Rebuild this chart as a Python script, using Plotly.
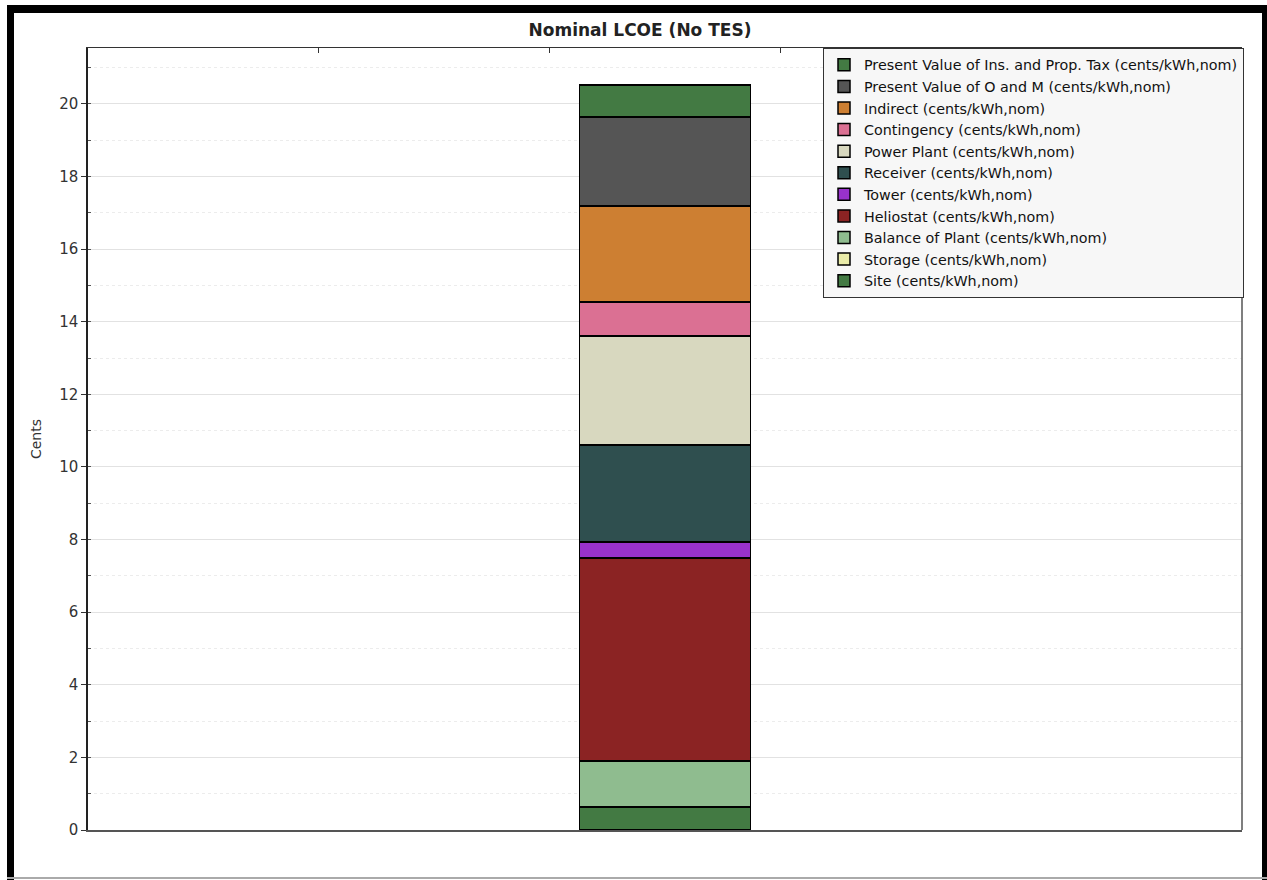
# Nominal LCOE (No TES) - barra apilada
import plotly.graph_objects as go

categoria = ["LCOE"]

componentes = [
    "Site (cents/kWh,nom)",
    "Storage (cents/kWh,nom)",
    "Balance of Plant (cents/kWh,nom)",
    "Heliostat (cents/kWh,nom)",
    "Tower (cents/kWh,nom)",
    "Receiver (cents/kWh,nom)",
    "Power Plant (cents/kWh,nom)",
    "Contingency (cents/kWh,nom)",
    "Indirect (cents/kWh,nom)",
    "Present Value of O and M (cents/kWh,nom)",
    "Present Value of Ins. and Prop. Tax (cents/kWh,nom)",
]
valores = [0.63, 0.0, 1.27, 5.59, 0.44, 2.68, 3.00, 0.94, 2.64, 2.45, 0.88]
colores = [
    "#437a43", "#eaeca8", "#8fbc8f", "#8b2323", "#9932cc", "#2f4f4f",
    "#d8d8bf", "#db7093", "#cd7f32", "#555555", "#437a43",
]

W, H = 1267, 880
L, R, T, B = 88, 25, 48, 50
pw, ph = W - L - R, H - T - B


def px(x):
    return (x - L) / pw


def py(y):
    return (H - B - y) / ph


fig = go.Figure()

for nombre, v, c in zip(componentes, valores, colores):
    fig.add_trace(go.Bar(
        x=categoria, y=[v], name=nombre,
        marker=dict(color=c, line=dict(color="black", width=1.5)),
        width=0.148,
    ))

# eje superior solo con marcas
fig.add_trace(go.Scatter(x=[0, 5], y=[0, 0], xaxis="x2", mode="markers",
                         marker=dict(opacity=0), showlegend=False, hoverinfo="skip"))

# marco exterior
marco = [
    (7, 14, 5, 880, "black"),
    (7, 1267, 5, 13, "black"),
    (1262, 1267, 5, 880, "black"),
    (7, 1267, 877, 879, "#aaaaaa"),
]
shapes = []
for x0, x1, y0, y1, c in marco:
    shapes.append(dict(type="rect", xref="paper", yref="paper",
                       x0=px(x0), x1=px(x1), y0=py(y1), y1=py(y0),
                       fillcolor=c, line=dict(width=0), layer="above"))
shapes.append(dict(type="line", xref="paper", yref="paper", x0=1, x1=1, y0=0, y1=1,
                   line=dict(color="#555", width=1.5)))

fig.update_layout(
    width=W, height=H,
    margin=dict(l=L, r=R, t=T, b=B),
    paper_bgcolor="white", plot_bgcolor="white",
    barmode="stack",
    font=dict(family="DejaVu Sans", size=14, color="#333"),
    title=dict(text="<b>Nominal LCOE (No TES)</b>", x=640 / W, xref="container",
               xanchor="center", y=1 - 30 / H, yanchor="middle",
               font=dict(size=17, color="#222")),
    showlegend=True,
    legend=dict(
        x=px(823), y=1, xanchor="left", yanchor="top",
        traceorder="reversed",
        bgcolor="#f7f7f7", bordercolor="#333", borderwidth=1,
        font=dict(family="DejaVu Sans", size=14.3, color="#111"),
        tracegroupgap=0,
    ),
    xaxis=dict(
        range=[-0.5, 0.5], showticklabels=False, ticks="",
        showgrid=False, showline=True, linecolor="#555", linewidth=2,
        zeroline=False,
    ),
    xaxis2=dict(
        overlaying="x", side="top", range=[0, 5], dtick=1,
        ticks="inside", ticklen=5, tickcolor="#333",
        showticklabels=False, showgrid=False, showline=True,
        linecolor="#333", linewidth=1, zeroline=False,
    ),
    yaxis=dict(
        range=[0, 21.54], dtick=2, tick0=0,
        ticks="outside", ticklen=5, tickcolor="#333",
        tickfont=dict(size=15, color="#333"),
        showgrid=True, gridcolor="#e2e2e2", gridwidth=1,
        minor=dict(dtick=1, showgrid=True, gridcolor="#ececec",
                   griddash="dot", ticks="inside", ticklen=3, tickcolor="#555"),
        showline=True, linecolor="#222", linewidth=1.5, mirror=False,
        zeroline=False,
        title=dict(text="Cents", font=dict(size=14, color="#333"), standoff=14),
    ),
    shapes=shapes,
)

# sin margen en el body para que la figura ocupe toda la ventana
fig.write_html("out.html", config={"displayModeBar": False},
               post_script="document.body.style.margin='0';document.body.style.overflow='hidden';")
